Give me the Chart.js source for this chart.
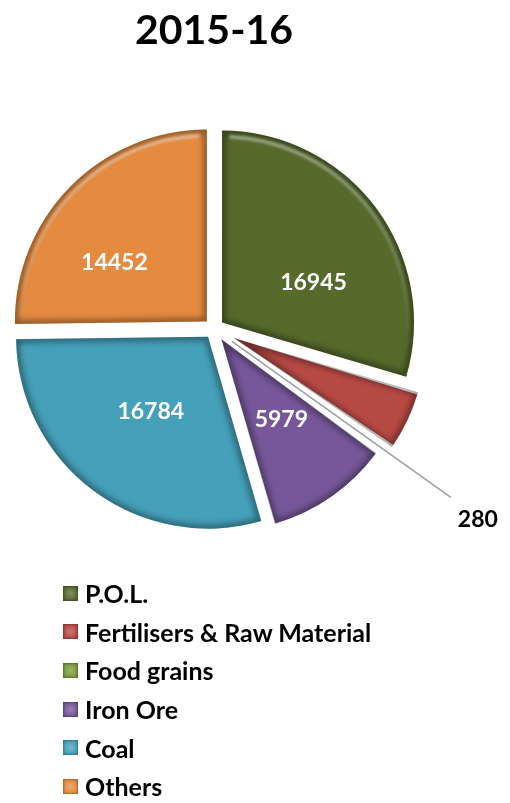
<!DOCTYPE html>
<html>
<head>
<meta charset="utf-8">
<title>Cargo 2015-16</title>
<script src="https://cdn.jsdelivr.net/npm/chart.js@4.4.1/dist/chart.umd.min.js"></script>
<style>
  body { margin: 0; background: #fff; font-family: Lato, "Open Sans", sans-serif; }
  #wrap { position: relative; width: 510px; height: 803px; overflow: hidden; }
  #cargoChart { position: absolute; left: 0; top: 0; }
  #legend { position: absolute; left: 63px; top: 574px; margin: 0; padding: 0; list-style: none; }
  #legend li { height: 38.6px; display: flex; align-items: center; font-weight: 700; font-size: 25px; color: #000; white-space: nowrap; }
  #legend .box { width: 15px; height: 15px; margin-right: 7px; box-shadow: inset 0 0 3px rgba(0,0,0,0.55); }
</style>
</head>
<body>
<div id="wrap">
  <canvas id="cargoChart" width="510" height="803"></canvas>
  <ul id="legend"></ul>
</div>
<script>
const categories = ['P.O.L.', 'Fertilisers & Raw Material', 'Food grains', 'Iron Ore', 'Coal', 'Others'];
const tonnage = [16945, 2900, 280, 5979, 16784, 14452];
const sliceColors = ['#566a2c', '#b84a45', '#7a9a3e', '#76589a', '#45a0b9', '#e58b40'];
// which slices get a value printed: 'in' inside the slice, 'out' with a leader line
const labelMode = ['in', 'none', 'out', 'in', 'in', 'in'];

// Chart.js moves an arc by offset/4 px, so these are 4x the wanted explode distance
const sliceOffset = [40, 88, 88, 52, 40, 40];
const labelTurn = [0.23, 0, 0, -0.035, 0.016, -0.215];   // small angle nudges (radians)
const labelDist = [0.52, 0, 1.4, 0.52, 0.49, 0.57];      // fraction of the radius

// the lib also grows the radius of thin exploded arcs; undo that so all slices are the same size
function radiusGrow(arc, off) {
  return off * (1 - Math.sin(Math.min(Math.PI, arc.circumference || 0)));
}

function arcGeom(chart, arc, i) {
  const p = arc.getProps(['x', 'y', 'startAngle', 'endAngle', 'outerRadius', 'circumference'], true);
  const mid = (p.startAngle + p.endAngle) / 2;
  const off = chart.data.datasets[0].offset[i] / 4;
  return {
    cx: p.x + Math.cos(mid) * off,
    cy: p.y + Math.sin(mid) * off,
    r: p.outerRadius + radiusGrow(p, off), s: p.startAngle, e: p.endAngle, mid: mid
  };
}

const equalRadius = {
  id: 'equalRadius',
  afterDatasetUpdate(chart, args) {
    const offs = chart.data.datasets[args.index].offset;
    args.meta.data.forEach((arc, i) => {
      arc.outerRadius -= radiusGrow(arc, offs[i] / 4);
    });
  }
};

// darker rim + light edge so the slices look a bit raised
const bevel = {
  id: 'bevel',
  afterDatasetsDraw(chart) {
    const ctx = chart.ctx;
    chart.getDatasetMeta(0).data.forEach((arc, i) => {
      const g = arcGeom(chart, arc, i);
      if (g.e - g.s < 0.1) return;
      ctx.save();
      ctx.beginPath();
      ctx.moveTo(g.cx, g.cy);
      ctx.arc(g.cx, g.cy, g.r, g.s, g.e);
      ctx.closePath();
      ctx.clip();
      ctx.filter = 'blur(3px)';
      ctx.lineWidth = 7;
      ctx.strokeStyle = 'rgba(0,0,0,0.4)';
      ctx.stroke();
      const grad = ctx.createLinearGradient(g.cx, g.cy - g.r, g.cx, g.cy + g.r);
      grad.addColorStop(0, 'rgba(255,255,255,0.55)');
      grad.addColorStop(0.6, 'rgba(255,255,255,0)');
      ctx.filter = 'blur(1.5px)';
      ctx.beginPath();
      ctx.arc(g.cx, g.cy, g.r - 6, g.s + 0.04, g.e - 0.04);
      ctx.lineWidth = 3;
      ctx.strokeStyle = grad;
      ctx.stroke();
      ctx.restore();
    });
  }
};

const sliceLabels = {
  id: 'sliceLabels',
  afterDatasetsDraw(chart) {
    const ctx = chart.ctx;
    const values = chart.data.datasets[0].data;
    ctx.save();
    ctx.font = 'bold 23px Lato, "Open Sans", sans-serif';
    ctx.textBaseline = 'middle';
    chart.getDatasetMeta(0).data.forEach((arc, i) => {
      const g = arcGeom(chart, arc, i);
      if (labelMode[i] === 'in') {
        const a = g.mid + labelTurn[i];
        const d = g.r * labelDist[i];
        ctx.fillStyle = '#fff';
        ctx.textAlign = 'center';
        ctx.fillText(String(values[i]), g.cx + Math.cos(a) * d, g.cy + Math.sin(a) * d);
      } else if (labelMode[i] === 'out') {
        const ex = g.cx + Math.cos(g.mid) * g.r * labelDist[i];
        const ey = g.cy + Math.sin(g.mid) * g.r * labelDist[i];
        ctx.beginPath();
        ctx.moveTo(g.cx, g.cy);
        ctx.lineTo(ex, ey);
        ctx.lineWidth = 1.3;
        ctx.strokeStyle = '#9b9b9b';
        ctx.stroke();
        ctx.fillStyle = '#000';
        ctx.textAlign = 'left';
        ctx.fillText(String(values[i]), ex + 7, ey + 22);
      }
    });
    ctx.restore();
  }
};

const chart = new Chart(document.getElementById('cargoChart'), {
  type: 'pie',
  data: {
    labels: categories,
    datasets: [{
      data: tonnage,
      backgroundColor: sliceColors,
      borderWidth: 0,
      offset: sliceOffset
    }]
  },
  options: {
    responsive: false,
    animation: false,
    radius: 192,
    layout: { padding: { top: 0, right: 82, bottom: 211, left: 0 } },
    plugins: {
      legend: { display: false },
      tooltip: { enabled: false },
      title: {
        display: true,
        text: '2015-16',
        color: '#000',
        font: { family: 'Lato', size: 41, weight: 'bold' },
        padding: { top: 6, bottom: 10 }
      }
    }
  },
  plugins: [equalRadius, bevel, sliceLabels]
});

// legend list below the pie
const legendEl = document.getElementById('legend');
chart.data.labels.forEach((name, i) => {
  const li = document.createElement('li');
  const box = document.createElement('span');
  box.className = 'box';
  box.style.background = 'radial-gradient(circle, rgba(255,255,255,0.25), rgba(0,0,0,0) 70%), ' + sliceColors[i];
  li.appendChild(box);
  li.appendChild(document.createTextNode(name));
  legendEl.appendChild(li);
});
</script>
</body>
</html>
